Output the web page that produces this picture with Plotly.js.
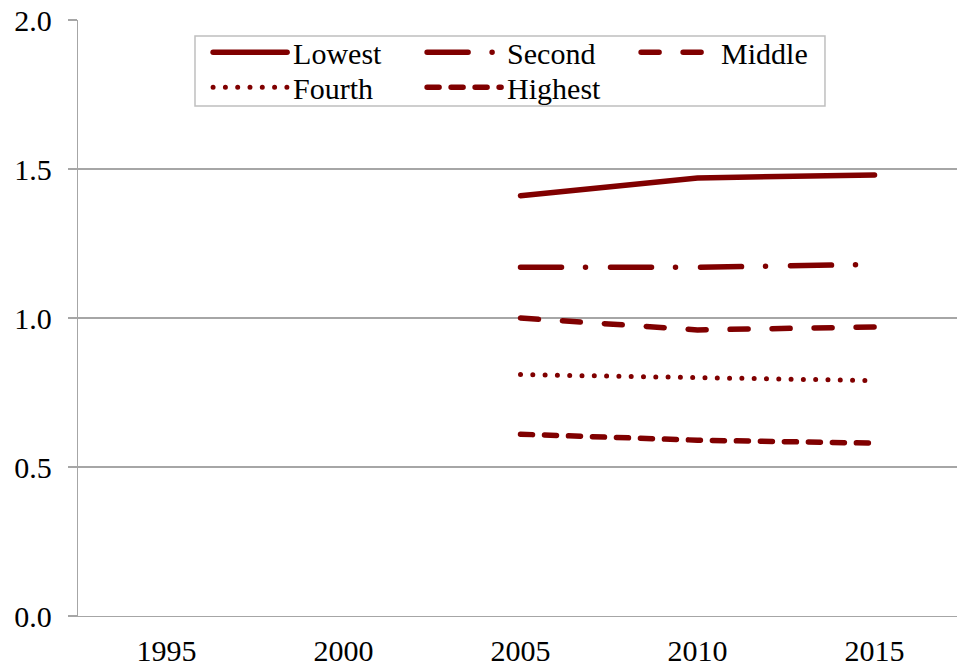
<!DOCTYPE html>
<html>
<head>
<meta charset="utf-8">
<script src="https://cdn.plot.ly/plotly-3.0.1.min.js"></script>
<style>
  html, body { margin: 0; padding: 0; background: #fff; }
  #chart { width: 957px; height: 669px; }
  html body div#chart div.svg-container svg.main-svg g text,
  html body div#chart svg text,
  html body div#chart text { font-family: 'Liberation Serif', 'Times New Roman', serif !important; }
  .js-line { stroke-linecap: round; }
  .legendlines path { d: path("M5,0h74"); }
</style>
</head>
<body>
<div id="chart"></div>
<script>
const years = ['1995', '2000', '2005', '2010', '2015'];
const lowest  = [null, null, 1.41, 1.47, 1.48];
const second  = [null, null, 1.17, 1.17, 1.18];
const middle  = [null, null, 1.00, 0.96, 0.97];
const fourth  = [null, null, 0.81, 0.80, 0.79];
const highest = [null, null, 0.61, 0.59, 0.58];
const seriesNames = ['Lowest', 'Second', 'Middle', 'Fourth', 'Highest'];

const RED = '#800000';
const FONT = 'Liberation Serif';

function tr(name, y, dash, width, legend) {
  return {
    type: 'scatter', mode: 'lines', name: name, x: years, y: y,
    line: { color: RED, width: width, dash: dash },
    legend: legend, hoverinfo: 'skip'
  };
}

const data = [
  tr(seriesNames[0], lowest, 'solid', 5.5, 'legend'),
  tr(seriesNames[1], second, '41px,24px,0px,25px', 5.5, 'legend'),
  tr(seriesNames[2], middle, '18px,24px', 5.5, 'legend'),
  tr(seriesNames[3], fourth, '0px,12.3px', 5, 'legend2'),
  tr(seriesNames[4], highest, '12px,12px', 5.5, 'legend2')
];

const legendCommon = {
  orientation: 'h', xanchor: 'left', yanchor: 'middle',
  font: { family: FONT, size: 30, color: '#000' },
  bgcolor: 'rgba(0,0,0,0)', borderwidth: 0,
  itemwidth: 75, entrywidth: 124, tracegroupgap: 0
};

const layout = {
  width: 957, height: 669,
  margin: { l: 78, r: 0, t: 20, b: 53, pad: 0 },
  paper_bgcolor: '#fff', plot_bgcolor: '#fff',
  font: { family: FONT, size: 30, color: '#000' },
  showlegend: true,
  legend: Object.assign({}, legendCommon, { x: 0.148, y: 0.946 }),
  legend2: Object.assign({}, legendCommon, { x: 0.148, y: 0.887 }),
  xaxis: {
    type: 'category', range: [-0.5, 4.466],
    showline: true, linecolor: '#a6a6a6', linewidth: 1.3,
    showgrid: false, zeroline: false, ticks: '',
    tickfont: { family: FONT, size: 30, color: '#000' },
    ticklabelstandoff: 8
  },
  yaxis: {
    range: [0, 2], dtick: 0.5, tick0: 0, tickformat: '.1f',
    showline: true, linecolor: '#a6a6a6', linewidth: 1.3,
    showgrid: true, gridcolor: '#a6a6a6', gridwidth: 1.3,
    zeroline: false, ticks: 'outside', ticklen: 9, tickcolor: '#a6a6a6', tickwidth: 1.3,
    tickfont: { family: FONT, size: 30, color: '#000' },
    ticklabelstandoff: 10
  },
  shapes: [{
    type: 'rect', xref: 'paper', yref: 'paper',
    x0: 0.1331, x1: 0.8498, y0: 0.8557, y1: 0.9732,
    line: { color: '#bfbfbf', width: 1.5 }, fillcolor: 'rgba(0,0,0,0)', layer: 'above'
  }]
};

Plotly.newPlot('chart', data, layout, { displayModeBar: false, staticPlot: true });
</script>
</body>
</html>
